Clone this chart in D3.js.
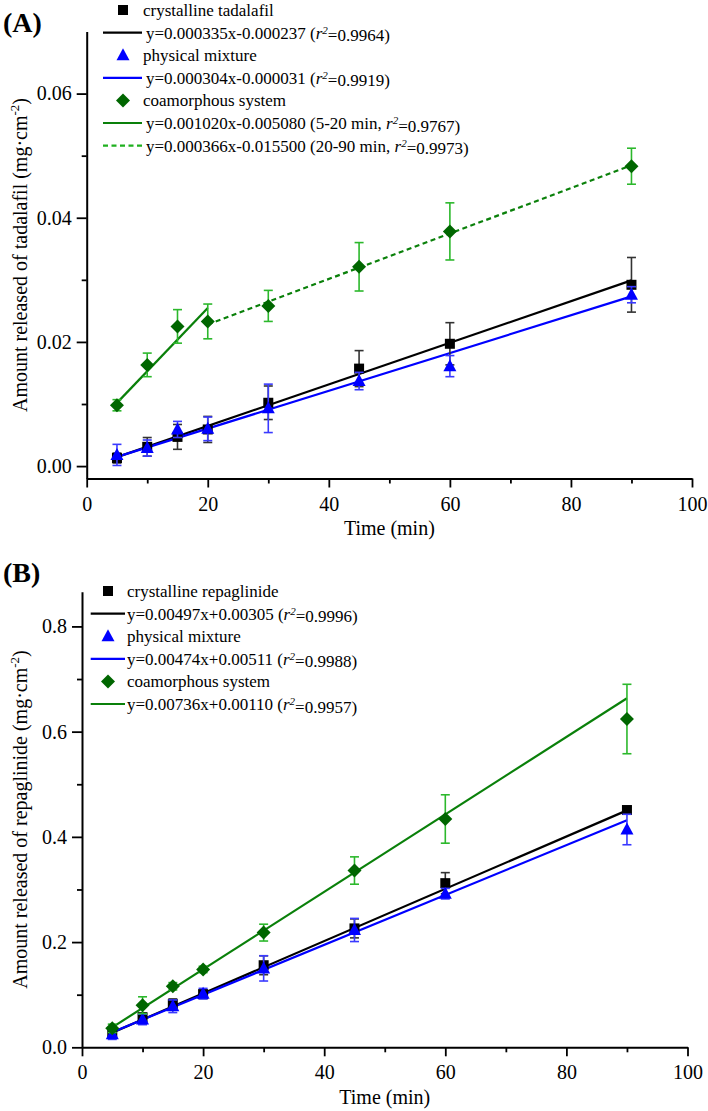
<!DOCTYPE html>
<html>
<head>
<meta charset="utf-8">
<script src="https://cdn.jsdelivr.net/npm/d3@7"></script>
<style>
  html, body { margin: 0; padding: 0; background: #fff; }
  svg { display: block; }
  text { font-family: "Liberation Serif", "Times New Roman", serif; fill: #000; }
</style>
</head>
<body>
<svg id="chart" width="708" height="1111"></svg>
<script>
// ---------------- DATA ----------------
const times = [5, 10, 15, 20, 30, 45, 60, 90];

// Panel A – tadalafil (mg·cm-2)
const crystTad    = [0.0013, 0.0031, 0.0047, 0.0059, 0.0102, 0.0157, 0.0197, 0.0292];
const crystTadErr = [0.0008, 0.0015, 0.0020, 0.0021, 0.0027, 0.0029, 0.0034, 0.0044];
const physTad     = [0.0018, 0.0029, 0.0059, 0.0060, 0.0093, 0.0137, 0.0161, 0.0276];
const physTadErr  = [0.0017, 0.0013, 0.0013, 0.0019, 0.0039, 0.0014, 0.0017, 0.0013];
const coamTad     = [0.0098, 0.0163, 0.0225, 0.0233, 0.0258, 0.0321, 0.0378, 0.0483];
const coamTadErr  = [0.0009, 0.0019, 0.0027, 0.0028, 0.0025, 0.0039, 0.0046, 0.0029];

// Panel B – repaglinide (mg·cm-2)
const crystRep    = [0.027, 0.057, 0.082, 0.101, 0.156, 0.226, 0.312, 0.451];
const crystRepErr = [0.006, 0.008, 0.010, 0.008, 0.018, 0.018, 0.020, 0.006];
const physRep     = [0.025, 0.053, 0.078, 0.102, 0.150, 0.223, 0.292, 0.414];
const physRepErr  = [0.010, 0.010, 0.012, 0.010, 0.024, 0.022, 0.010, 0.029];
const coamRep     = [0.036, 0.080, 0.116, 0.148, 0.218, 0.336, 0.434, 0.624];
const coamRepErr  = [0.008, 0.016, 0.007, 0.006, 0.016, 0.026, 0.046, 0.066];

// Fitted lines (as drawn): slope, intercept, time range
const fitSlopeA     = [0.000335, 0.000304, 0.001020, 0.000366];
const fitInterceptA = [-0.000237, -0.000031, 0.005080, 0.015500];
const fitFromA      = [5, 5, 5, 20];
const fitToA        = [90, 90, 20, 90];
const fitSlopeB     = [0.00497, 0.00474, 0.00736];
const fitInterceptB = [0.00305, 0.00511, 0.00110];
const fitFromB      = [5, 5, 5];
const fitToB        = [90, 90, 90];

// Legend labels
const seriesNamesA = ["crystalline tadalafil", "physical mixture", "coamorphous system"];
const fitLabelsA = [
  ["y=0.000335x-0.000237 (", "=0.9964)"],
  ["y=0.000304x-0.000031 (", "=0.9919)"],
  ["y=0.001020x-0.005080 (5-20 min, ", "=0.9767)"],
  ["y=0.000366x-0.015500 (20-90 min, ", "=0.9973)"]
];
const seriesNamesB = ["crystalline repaglinide", "physical mixture", "coamorphous system"];
const fitLabelsB = [
  ["y=0.00497x+0.00305 (", "=0.9996)"],
  ["y=0.00474x+0.00511 (", "=0.9988)"],
  ["y=0.00736x+0.00110 (", "=0.9957)"]
];

// Axis ticks
const xMajor = [0, 20, 40, 60, 80, 100];
const xMinor = [10, 30, 50, 70, 90];
const yMajorA = [0, 0.02, 0.04, 0.06];
const yMinorA = [0.01, 0.03, 0.05];
const yMajorB = [0, 0.2, 0.4, 0.6, 0.8];
const yMinorB = [0.1, 0.3, 0.5, 0.7];

// ---------------- STYLE ----------------
const markerColor = ["#000000", "#0000ff", "#006600"];
const lineColor   = ["#000000", "#0000ff", "#0a800a"];
const errColor    = ["#333333", "#3a3aff", "#2cb82c"];
const markerType  = ["square", "triangle", "diamond"];

const svg = d3.select("#chart");

function marker(g, type, cx, cy, color) {
  if (type === "square") {
    g.append("rect").attr("x", cx - 5).attr("y", cy - 5).attr("width", 10).attr("height", 10).attr("fill", color);
  } else if (type === "triangle") {
    g.append("path").attr("d", `M${cx},${cy - 7}L${cx + 6.5},${cy + 5}L${cx - 6.5},${cy + 5}Z`).attr("fill", color);
  } else {
    g.append("path").attr("d", `M${cx},${cy - 7}L${cx + 7},${cy}L${cx},${cy + 7}L${cx - 7},${cy}Z`).attr("fill", color);
  }
}

function drawPanel(cfg) {
  const g = svg.append("g");
  const x = d3.scaleLinear().domain([0, 100]).range(cfg.xRange);
  const y = d3.scaleLinear().domain(cfg.yDomain).range(cfg.yRange);
  const y0 = cfg.yRange[0];
  const x0 = cfg.xRange[0];

  // X axis
  const xa = g.append("g").attr("transform", `translate(0,${y0})`);
  xa.call(d3.axisBottom(x).tickValues(xMajor).tickSize(9).tickSizeOuter(0).tickPadding(9).tickFormat(d3.format("d")));
  xa.append("g").call(d3.axisBottom(x).tickValues(xMinor).tickSize(5).tickSizeOuter(0).tickFormat(""))
    .select(".domain").remove();
  // Y axis
  const ya = g.append("g").attr("transform", `translate(${x0},0)`);
  ya.call(d3.axisLeft(y).tickValues(cfg.yMajor).tickSize(10).tickSizeOuter(0).tickPadding(5).tickFormat(d3.format(cfg.yFmt)));
  ya.append("g").call(d3.axisLeft(y).tickValues(cfg.yMinor).tickSize(5).tickSizeOuter(0).tickFormat(""))
    .select(".domain").remove();
  g.selectAll(".domain").attr("stroke", "#000").attr("stroke-width", 2);
  g.selectAll(".tick line").attr("stroke", "#000").attr("stroke-width", 1.8);
  g.selectAll(".tick text").style("font-family", '"Liberation Serif", "Times New Roman", serif').style("font-size", "20px").attr("fill", "#000");

  // Axis titles
  g.append("text").attr("x", (cfg.xRange[0] + cfg.xRange[1]) / 2).attr("y", cfg.xTitleY)
    .attr("text-anchor", "middle").style("font-size", "20px").text("Time (min)");
  const yt = g.append("text")
    .attr("transform", `translate(${cfg.yTitleX},${(cfg.yRange[0] + cfg.yRange[1]) / 2}) rotate(-90)`)
    .attr("text-anchor", "middle").style("font-size", "20px");
  yt.append("tspan").text(cfg.yTitle);
  yt.append("tspan").attr("dy", -8).style("font-size", "13px").text("-2");
  yt.append("tspan").attr("dy", 8).text(")");

  // Panel label
  g.append("text").attr("x", 3).attr("y", cfg.labelY).style("font-size", "28px").style("font-weight", "bold").text(cfg.label);

  // Fit lines
  cfg.fits.forEach(f => {
    g.append("line")
      .attr("x1", x(f.from)).attr("y1", y(f.slope * f.from + f.intercept))
      .attr("x2", x(f.to)).attr("y2", y(f.slope * f.to + f.intercept))
      .attr("stroke", f.color).attr("stroke-width", 2.2)
      .attr("stroke-dasharray", f.dashed ? "5,3.5" : null);
  });

  // Series: error bars + markers
  cfg.series.forEach((s, i) => {
    const sg = g.append("g");
    times.forEach((t, k) => {
      const cx = x(t), v = s.values[k], e = s.errors[k];
      const yt = y(v + e), yb = y(v - e);
      sg.append("line").attr("x1", cx).attr("x2", cx).attr("y1", yt).attr("y2", yb)
        .attr("stroke", errColor[i]).attr("stroke-width", 1.6);
      [yt, yb].forEach(yy => sg.append("line").attr("x1", cx - 4.5).attr("x2", cx + 4.5).attr("y1", yy).attr("y2", yy)
        .attr("stroke", errColor[i]).attr("stroke-width", 1.6));
    });
    times.forEach((t, k) => marker(sg, markerType[i], x(t), y(s.values[k]), markerColor[i]));
  });

  // Legend
  const lg = g.append("g");
  cfg.legendRows.forEach((r, k) => {
    const ry = cfg.legendY + k * cfg.legendStep;
    if (r.kind === "marker") {
      marker(lg, r.type, cfg.legendMarkerX, ry, r.color);
      lg.append("text").attr("x", cfg.legendTextX).attr("y", ry).attr("dy", "0.35em")
        .style("font-size", "17px").text(r.text);
    } else {
      lg.append("line").attr("x1", cfg.legendLineX[0]).attr("x2", cfg.legendLineX[1]).attr("y1", ry).attr("y2", ry)
        .attr("stroke", r.color).attr("stroke-width", 2.2).attr("stroke-dasharray", r.dashed ? "5,3.5" : null);
      const tx = lg.append("text").attr("x", cfg.legendEqX).attr("y", ry).attr("dy", "0.35em").style("font-size", "17px");
      tx.append("tspan").text(r.text[0]);
      tx.append("tspan").style("font-style", "italic").text("r");
      tx.append("tspan").attr("dy", "-0.45em").style("font-size", "11px").style("font-style", "italic").text("2");
      tx.append("tspan").attr("dy", "0.45em").text(r.text[1]);
    }
  });
}

// Panel A
drawPanel({
  label: "(A)", labelY: 32,
  xRange: [86.7, 692], yDomain: [-0.002, 0.07], yRange: [478.5, 31.5],
  yMajor: yMajorA, yMinor: yMinorA, yFmt: ".2f",
  xTitleY: 535, yTitleX: 27,
  yTitle: "Amount released of tadalafil (mg·cm",
  fits: fitSlopeA.map((s, i) => ({
    slope: s, intercept: fitInterceptA[i], from: fitFromA[i], to: fitToA[i],
    color: lineColor[Math.min(i, 2)], dashed: i === 3
  })),
  series: [
    { values: crystTad, errors: crystTadErr },
    { values: physTad, errors: physTadErr },
    { values: coamTad, errors: coamTadErr }
  ],
  legendY: 10, legendStep: 22.6, legendMarkerX: 123, legendTextX: 143, legendEqX: 146, legendLineX: [103, 142],
  legendRows: [
    { kind: "marker", type: "square", color: markerColor[0], text: seriesNamesA[0] },
    { kind: "line", color: lineColor[0], text: fitLabelsA[0] },
    { kind: "marker", type: "triangle", color: markerColor[1], text: seriesNamesA[1] },
    { kind: "line", color: lineColor[1], text: fitLabelsA[1] },
    { kind: "marker", type: "diamond", color: markerColor[2], text: seriesNamesA[2] },
    { kind: "line", color: lineColor[2], text: fitLabelsA[2] },
    { kind: "line", color: "#1fb01f", dashed: true, text: fitLabelsA[3] }
  ]
});

// Panel B
drawPanel({
  label: "(B)", labelY: 582,
  xRange: [82, 687.5], yDomain: [0, 0.866], yRange: [1047.3, 591.7],
  yMajor: yMajorB, yMinor: yMinorB, yFmt: ".1f",
  xTitleY: 1104, yTitleX: 27,
  yTitle: "Amount released of repaglinide (mg·cm",
  fits: fitSlopeB.map((s, i) => ({
    slope: s, intercept: fitInterceptB[i], from: fitFromB[i], to: fitToB[i],
    color: lineColor[i], dashed: false
  })),
  series: [
    { values: crystRep, errors: crystRepErr },
    { values: physRep, errors: physRepErr },
    { values: coamRep, errors: coamRepErr }
  ],
  legendY: 591, legendStep: 22.6, legendMarkerX: 108, legendTextX: 127, legendEqX: 127, legendLineX: [90.7, 125],
  legendRows: [
    { kind: "marker", type: "square", color: markerColor[0], text: seriesNamesB[0] },
    { kind: "line", color: lineColor[0], text: fitLabelsB[0] },
    { kind: "marker", type: "triangle", color: markerColor[1], text: seriesNamesB[1] },
    { kind: "line", color: lineColor[1], text: fitLabelsB[1] },
    { kind: "marker", type: "diamond", color: markerColor[2], text: seriesNamesB[2] },
    { kind: "line", color: lineColor[2], text: fitLabelsB[2] }
  ]
});
</script>
</body>
</html>
